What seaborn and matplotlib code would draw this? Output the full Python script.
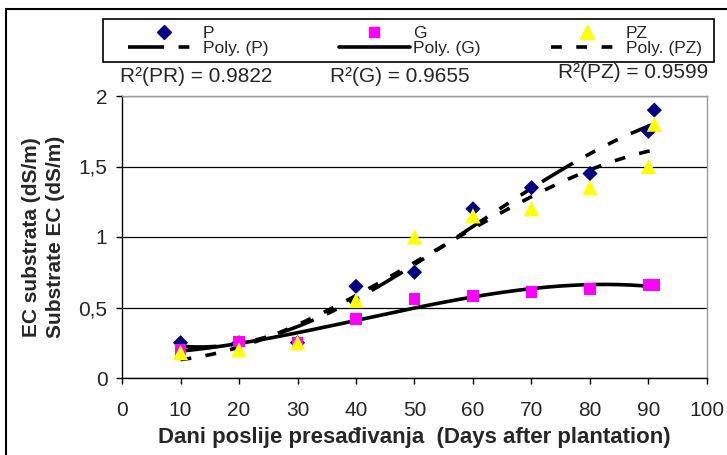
import numpy as np
import pandas as pd
import matplotlib
matplotlib.use("Agg")
import matplotlib.pyplot as plt
from matplotlib.lines import Line2D
from matplotlib.patches import Rectangle
import seaborn as sns

days = [10, 20, 30, 40, 50, 60, 70, 80, 90, 91]
P = [0.25, 0.25, 0.25, 0.65, 0.75, 1.20, 1.35, 1.45, 1.75, 1.90]
G = [0.20, 0.26, 0.25, 0.42, 0.56, 0.58, 0.61, 0.63, 0.66, 0.66]
PZ = [0.18, 0.20, 0.25, 0.55, 1.00, 1.15, 1.20, 1.35, 1.50, 1.80]
r2_labels = ["R²(PR) = 0.9822", "R²(G) = 0.9655", "R²(PZ) = 0.9599"]
yticks = [0, 0.5, 1, 1.5, 2]
ytick_labels = ["0", "0,5", "1", "1,5", "2"]
xticks = list(range(0, 101, 10))

sns.set_style("white")
plt.rcParams["font.family"] = ["Liberation Sans", "DejaVu Sans"]

FS = 15
fig = plt.figure(figsize=(7.27, 4.55), dpi=100)
ax = fig.add_axes([122/727, 1-378/455, (707-122)/727, (378-96)/455])

df = pd.DataFrame({"day": days, "P": P, "G": G, "PZ": PZ})

# polynomial trend lines fitted from data
xs = np.linspace(10, 91, 200)
def trend(y, order=3):
    c = np.polyfit(days, y, order)
    return np.polyval(c, xs)

tr = pd.DataFrame({"x": xs, "P": trend(P), "G": trend(G), "PZ": trend(PZ)})

lw = 2.6
sns.lineplot(data=tr, x="x", y="G", ax=ax, color="black", lw=lw, zorder=3)
lP = sns.lineplot(data=tr, x="x", y="P", ax=ax, color="black", lw=lw, zorder=3).lines[-1]
lP.set_dashes((10, 4, 3, 4, 3, 4))
lZ = sns.lineplot(data=tr, x="x", y="PZ", ax=ax, color="black", lw=lw, zorder=3).lines[-1]
lZ.set_dashes((3, 4))

sns.scatterplot(data=df, x="day", y="P", ax=ax, marker="D", color="#000080", s=60, edgecolor="none", zorder=4)
sns.scatterplot(data=df, x="day", y="G", ax=ax, marker="s", color="#FF00FF", s=70, edgecolor="none", zorder=4)
sns.scatterplot(data=df, x="day", y="PZ", ax=ax, marker="^", color="#FFFF00", s=120, edgecolor="none", zorder=5)

ax.set_xlim(0, 100)
ax.set_ylim(0, 2)
ax.set_xticks(xticks)
ax.set_yticks(yticks)
ax.set_yticklabels(ytick_labels)
ax.tick_params(axis="both", labelsize=FS, direction="out", length=4.5, width=1, color="black",
               bottom=True, left=True)
ax.tick_params(axis="x", pad=12)
ax.tick_params(axis="y", pad=6)
ax.yaxis.grid(True, color="black", lw=0.9)
ax.xaxis.grid(False)
for s in ["top", "right"]:
    ax.spines[s].set_color("#999999")
for s in ["left", "bottom"]:
    ax.spines[s].set_color("black")
for s in ax.spines.values():
    s.set_linewidth(1)

ax.set_xlabel("Dani poslije presađivanja  (Days after plantation)", fontsize=16, fontweight="bold", labelpad=5)
ax.set_ylabel("EC substrata (dS/m)\nSubstrate EC (dS/m)", fontsize=FS, fontweight="bold", labelpad=10,
              linespacing=1.3)

# R² annotations
fig.text(120/727, 1-76/455, r2_labels[0], fontsize=FS, va="center", ha="left")
fig.text(330/727, 1-76/455, r2_labels[1], fontsize=FS, va="center", ha="left")
fig.text(558/727, 1-72/455, r2_labels[2], fontsize=FS, va="center", ha="left")

# legend
handles = [
    Line2D([], [], ls="none", marker="D", color="#000080", markersize=7.5),
    Line2D([], [], color="black", lw=lw, dashes=(10, 4, 3, 4, 3, 4)),
    Line2D([], [], ls="none", marker="s", color="#FF00FF", markersize=7.5),
    Line2D([], [], color="black", lw=lw),
    Line2D([], [], ls="none", marker="^", color="#FFFF00", markersize=10),
    Line2D([], [], color="black", lw=lw, dashes=(3, 4)),
]
labels = ["P", "Poly. (P)", "G", "Poly. (G)", "PZ", "Poly. (PZ)"]
LFS = 12.5
leg = fig.legend(handles, labels, ncol=3, loc="center left",
                 bbox_to_anchor=(128/727, 1-41/455, (702-128)/727, 0),
                 mode="expand", borderaxespad=0, frameon=False,
                 fontsize=LFS, handlelength=4.1, handletextpad=0.2,
                 labelspacing=0.0, borderpad=0, columnspacing=1.0)

# legend frame
fig.patches.append(Rectangle((103/727, 1-62/455), (714-103)/727, 43/455, transform=fig.transFigure,
                             fill=False, edgecolor="black", lw=1.2, zorder=0))
# figure frame
fig.patches.append(Rectangle((6/727, -0.05), 1.1, 1.05 - 9/455, transform=fig.transFigure,
                             fill=False, edgecolor="black", lw=1.5, zorder=0))

fig.savefig("out.png", dpi=100)
